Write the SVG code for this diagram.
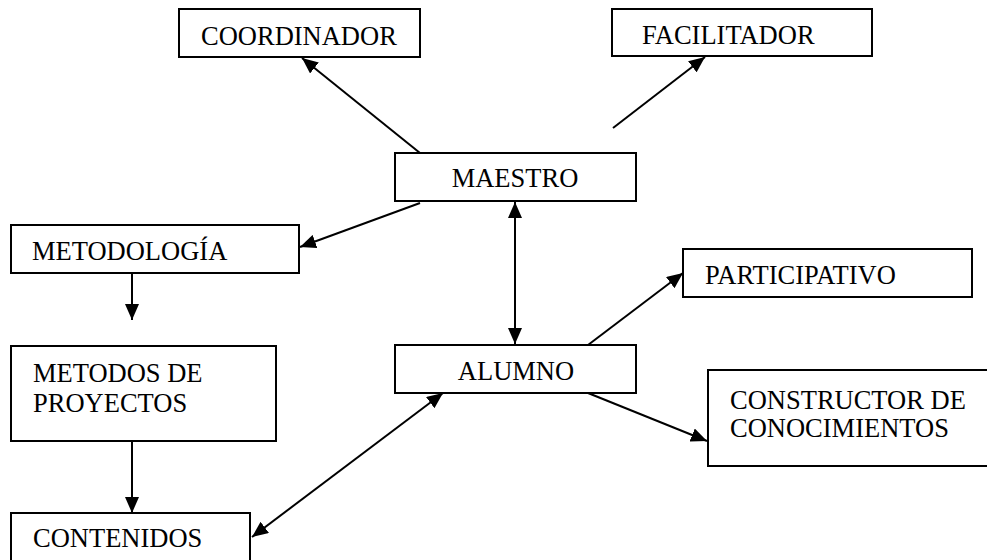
<svg xmlns="http://www.w3.org/2000/svg" width="987" height="560" viewBox="0 0 987 560">
<defs>
<style>
.box{fill:#fff;stroke:#000;stroke-width:2}
.t{font-size:26.5px;fill:#000}
.c{fill:none;stroke:#000;stroke-width:2}
</style>
<marker id="ah" viewBox="0 0 16 14" refX="16" refY="7" markerWidth="16" markerHeight="14" markerUnits="userSpaceOnUse" orient="auto-start-reverse">
<path d="M0,0 L16,7 L0,14 Z" fill="#000"/>
</marker>
</defs>
<rect width="987" height="560" fill="#fff"/>
<g id="connectors">
<line class="c" x1="420" y1="153" x2="302" y2="58" marker-end="url(#ah)"/>
<line class="c" x1="613" y1="128" x2="705" y2="57" marker-end="url(#ah)"/>
<line class="c" x1="420" y1="203" x2="300" y2="247" marker-end="url(#ah)"/>
<line class="c" x1="515" y1="202" x2="515" y2="344" marker-start="url(#ah)" marker-end="url(#ah)"/>
<line class="c" x1="132" y1="273" x2="132" y2="320" marker-end="url(#ah)"/>
<line class="c" x1="132" y1="441" x2="132" y2="513" marker-end="url(#ah)"/>
<line class="c" x1="588" y1="345" x2="683" y2="273" marker-end="url(#ah)"/>
<line class="c" x1="588" y1="393" x2="707" y2="441" marker-end="url(#ah)"/>
<line class="c" x1="252" y1="537" x2="443" y2="393" marker-start="url(#ah)" marker-end="url(#ah)"/>
</g>
<g font-family="Liberation Serif, Times New Roman, Tinos, DejaVu Serif, serif">
<g id="coordinador"><rect class="box" x="179" y="9" width="241" height="48"/><text class="t" x="201" y="45">COORDINADOR</text></g>
<g id="facilitador"><rect class="box" x="612" y="9" width="260" height="47"/><text class="t" x="642" y="44">FACILITADOR</text></g>
<g id="maestro"><rect class="box" x="395" y="153" width="241" height="48"/><text class="t" x="515" y="187" text-anchor="middle">MAESTRO</text></g>
<g id="metodologia"><rect class="box" x="11" y="225" width="288" height="48"/><text class="t" x="32" y="260">METODOLOGÍA</text></g>
<g id="participativo"><rect class="box" x="683" y="249" width="289" height="48"/><text class="t" x="705" y="284">PARTICIPATIVO</text></g>
<g id="alumno"><rect class="box" x="395" y="345" width="241" height="48"/><text class="t" x="516" y="380" text-anchor="middle">ALUMNO</text></g>
<g id="metodos"><rect class="box" x="11" y="346" width="265" height="95"/><text class="t" x="33" y="382">METODOS DE</text><text class="t" x="33" y="412">PROYECTOS</text></g>
<g id="constructor"><rect class="box" x="708" y="370" width="290" height="96"/><text class="t" x="730" y="409">CONSTRUCTOR DE</text><text class="t" x="730" y="437">CONOCIMIENTOS</text></g>
<g id="contenidos"><rect class="box" x="11" y="513" width="239" height="60"/><text class="t" x="33" y="547">CONTENIDOS</text></g>
</g>
</svg>
